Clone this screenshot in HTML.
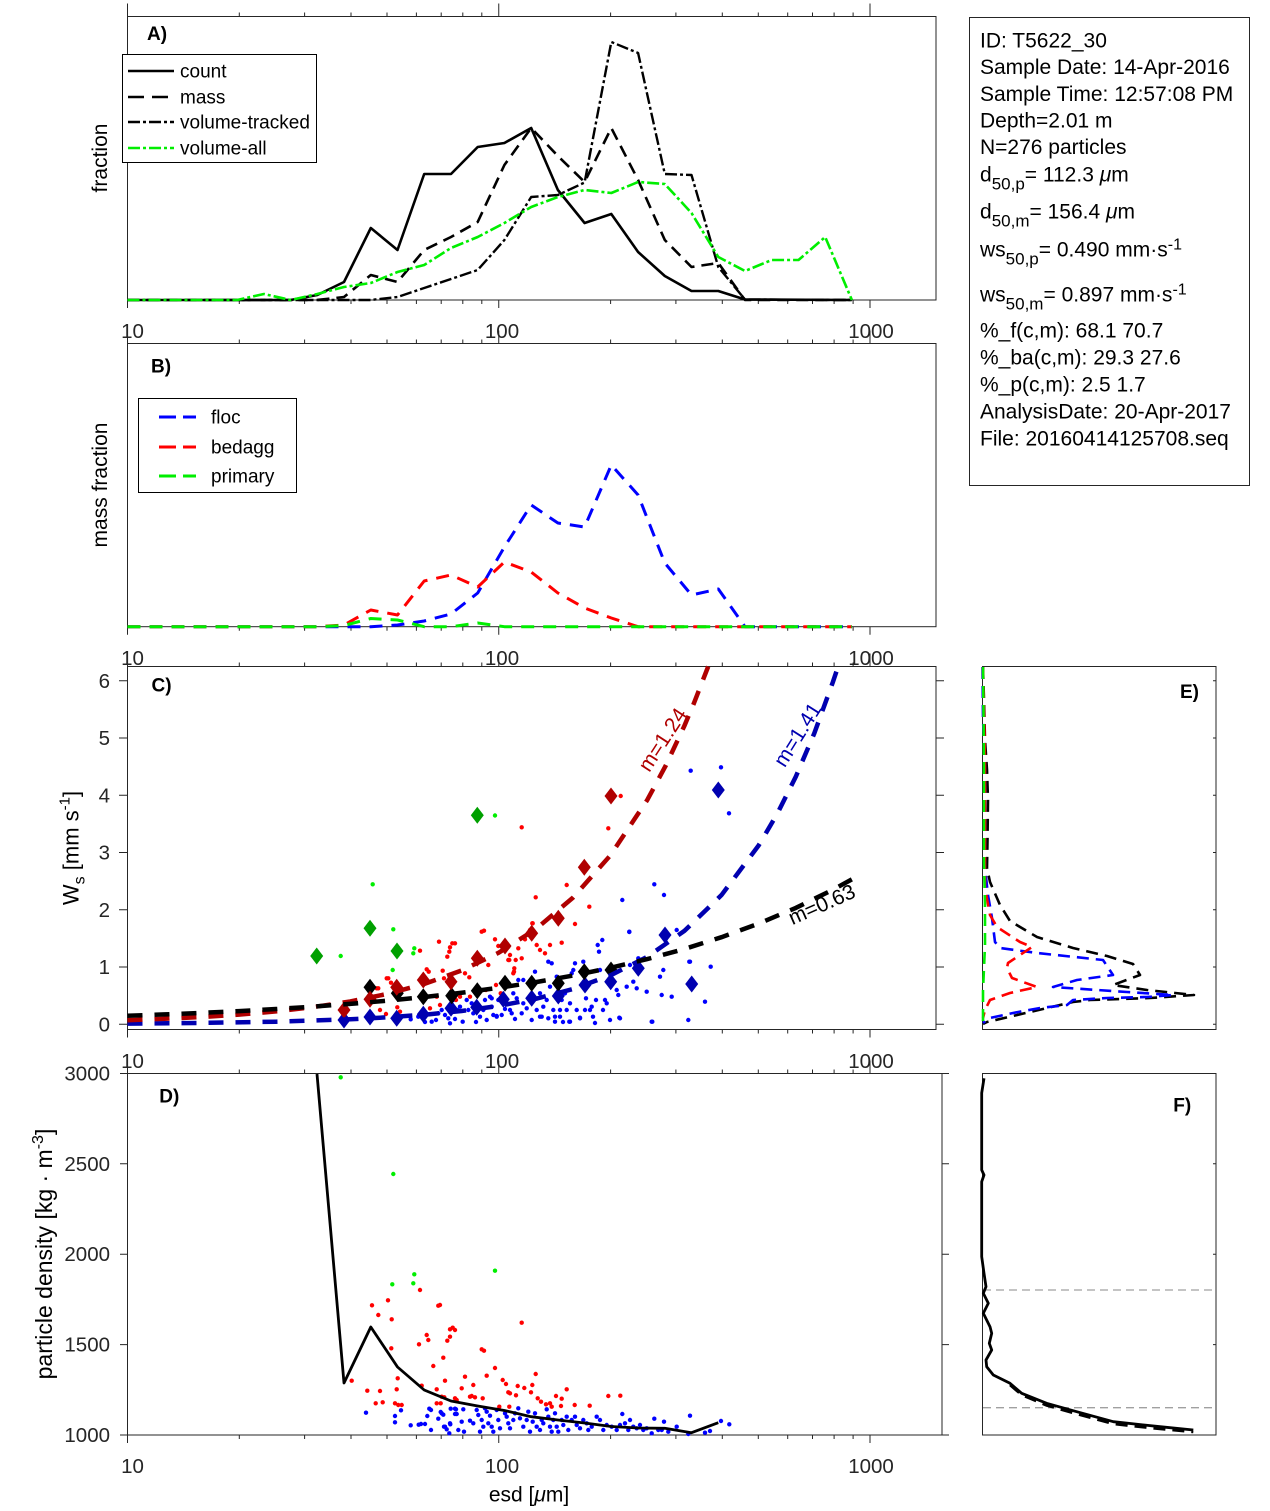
<!DOCTYPE html>
<html>
<head>
<meta charset="utf-8">
<style>
html,body{margin:0;padding:0;background:#fff;}
svg{display:block;font-family:"Liberation Sans",Arial,sans-serif;}
</style>
</head>
<body>
<svg width="1270" height="1511" viewBox="0 0 1270 1511" xmlns="http://www.w3.org/2000/svg">
<defs>
<path id="tkTop" d="M127.5 0v-13M498.75 0v-13M870 0v-13M239.3 0v-4M304.6 0v-4M351 0v-4M387 0v-4M416.4 0v-4M441.2 0v-4M462.8 0v-4M481.8 0v-4M610.6 0v-4M675.9 0v-4M722.3 0v-4M758.3 0v-4M787.7 0v-4M812.5 0v-4M834.1 0v-4M853.1 0v-4"/>
<path id="tkBot" d="M127.5 0v8M498.75 0v8M870 0v8M239.3 0v4M304.6 0v4M351 0v4M387 0v4M416.4 0v4M441.2 0v4M462.8 0v4M481.8 0v4M610.6 0v4M675.9 0v4M722.3 0v4M758.3 0v4M787.7 0v4M812.5 0v4M834.1 0v4M853.1 0v4"/>
<path id="dm" d="M0 -8.5L6.5 0L0 8.5L-6.5 0Z"/>
</defs>
<rect x="0" y="0" width="1270" height="1511" fill="#fff"/>

<!-- ============ PANEL A ============ -->
<g fill="none" stroke="#262626" stroke-width="1">
<rect x="127.5" y="16.5" width="808.5" height="283.5"/>
<use href="#tkTop" y="16.5"/>
<use href="#tkBot" y="300"/>
</g>
<g fill="none" stroke-linejoin="round">
<polyline stroke="#000" stroke-width="2.6" points="127.5,300 290.6,300 317.3,295 344,282 370.8,228 397.5,250 424.2,174 451,174 477.7,147 504.4,143 531.2,128 557.9,190 584.6,223 611.3,214 638.1,252 664.8,276 691.5,291 718.3,291 745,299.5 851.9,300"/>
<polyline stroke="#000" stroke-width="2.6" stroke-dasharray="12 7" points="127.5,300 317.3,300 344,297 370.8,275 397.5,282 424.2,250 451,237 477.7,222 504.4,165 531.2,128 557.9,156 584.6,182 611.3,128 638.1,180 664.8,240 691.5,267 718.3,263 745,300 851.9,300"/>
<polyline stroke="#000" stroke-width="2.4" stroke-dasharray="12 3 3 3" points="127.5,300 370.8,300 397.5,297 424.2,288 451,279 477.7,270 504.4,240 531.2,197 557.9,195 584.6,182.5 611.3,42 638.1,53 664.8,174 691.5,175 718.3,267 745,299.5 851.9,300"/>
<polyline stroke="#00ee00" stroke-width="2.6" stroke-dasharray="12 3 3 3" points="127.5,300 237.1,300 263.9,294 290.6,300 317.3,294 344,287 370.8,283 397.5,272 424.2,265 451,248 477.7,237 504.4,223 531.2,207 557.9,197 584.6,190 611.3,193 638.1,182 664.8,184 691.5,213 718.3,257 745,271 771.7,260 798.5,260 825.2,237 851.9,300"/>
</g>
<text x="147" y="40" font-size="19" font-weight="bold" fill="#000">A)</text>
<rect x="122.5" y="54.5" width="194" height="108" fill="#fff" stroke="#000" stroke-width="1"/>
<g fill="none">
<line x1="128" y1="71" x2="174" y2="71" stroke="#000" stroke-width="2.6"/>
<line x1="128" y1="97" x2="174" y2="97" stroke="#000" stroke-width="2.6" stroke-dasharray="16 8"/>
<line x1="128" y1="122" x2="174" y2="122" stroke="#000" stroke-width="2.4" stroke-dasharray="12 3 3 3"/>
<line x1="128" y1="148" x2="174" y2="148" stroke="#00ee00" stroke-width="2.6" stroke-dasharray="12 3 3 3"/>
</g>
<g font-size="19" fill="#000">
<text x="180" y="77.5">count</text>
<text x="180" y="103.5">mass</text>
<text x="180" y="128.5">volume-tracked</text>
<text x="180" y="154.5">volume-all</text>
</g>
<text transform="translate(107,158) rotate(-90)" text-anchor="middle" font-size="21" fill="#000">fraction</text>
<g font-size="20.5" fill="#262626" text-anchor="middle">
<text x="132.5" y="338">10</text><text x="502" y="338">100</text><text x="871" y="338">1000</text>
</g>

<!-- ============ PANEL B ============ -->
<g fill="none" stroke="#262626" stroke-width="1">
<rect x="127.5" y="343.5" width="808.5" height="283.2"/>
<use href="#tkTop" y="343.5"/>
<use href="#tkBot" y="626.7"/>
</g>
<g fill="none" stroke-width="3" stroke-dasharray="13 9" stroke-linejoin="round">
<polyline stroke="#0000ff" points="127.5,626.7 370.8,626.7 397.5,625 424.2,621 451,614 477.7,593 504.4,547 531.2,505 557.9,523 584.6,527 611.3,465 638.1,495 664.8,563 691.5,595 718.3,589 745,626.7 851.9,626.7"/>
<polyline stroke="#ff0000" points="127.5,626.7 317.3,626.7 344,625 370.8,610 397.5,615 424.2,581 451,575 477.7,587 504.4,562 531.2,572 557.9,593 584.6,608 611.3,618 638.1,626.7 851.9,626.7"/>
<polyline stroke="#00ee00" points="127.5,626.7 317.3,626.7 344,625.5 370.8,618.5 397.5,620 424.2,626.7 451,626.7 477.7,623 504.4,626.7 851.9,626.7"/>
</g>
<text x="151" y="372.5" font-size="19" font-weight="bold" fill="#000">B)</text>
<rect x="138.5" y="398.5" width="158" height="94" fill="#fff" stroke="#000" stroke-width="1"/>
<g fill="none" stroke-width="3" stroke-dasharray="17 7">
<line x1="159" y1="417" x2="196" y2="417" stroke="#0000ff"/>
<line x1="159" y1="447" x2="196" y2="447" stroke="#ff0000"/>
<line x1="159" y1="476" x2="196" y2="476" stroke="#00ee00"/>
</g>
<g font-size="19" fill="#000">
<text x="211" y="423.5">floc</text>
<text x="211" y="453.5">bedagg</text>
<text x="211" y="482.5">primary</text>
</g>
<text transform="translate(107,485) rotate(-90)" text-anchor="middle" font-size="21" fill="#000">mass fraction</text>
<g font-size="20.5" fill="#262626" text-anchor="middle">
<text x="132.5" y="665">10</text><text x="502" y="665">100</text><text x="871" y="665">1000</text>
</g>

<!-- ============ PANEL C ============ -->
<g fill="none" stroke="#262626" stroke-width="1">
<rect x="127.5" y="666.5" width="808.5" height="363"/>
<use href="#tkTop" y="666.5"/>
<use href="#tkBot" y="1029.5"/>
<path d="M119 1024.3h8M119 967h8M119 909.8h8M119 852.5h8M119 795.2h8M119 738h8M119 680.7h8M936 1024.3h8M936 967h8M936 909.8h8M936 852.5h8M936 795.2h8M936 738h8M936 680.7h8"/>
</g>
<g font-size="20.5" fill="#262626" text-anchor="end">
<text x="110" y="1031.5">0</text><text x="110" y="974">1</text><text x="110" y="917">2</text><text x="110" y="859.5">3</text><text x="110" y="802.5">4</text><text x="110" y="745">5</text><text x="110" y="688">6</text>
</g>
<text transform="translate(78.5,848) rotate(-90)" text-anchor="middle" font-size="22" fill="#000">W<tspan font-size="16" dy="6">s</tspan><tspan dy="-6"> [mm s</tspan><tspan font-size="15" dy="-9">-1</tspan><tspan dy="9">]</tspan></text>
<g font-size="20.5" fill="#262626" text-anchor="middle">
<text x="132.5" y="1068">10</text><text x="502" y="1068">100</text><text x="871" y="1068">1000</text>
</g>
<!-- C blue dots -->
<g fill="#0000ff">
<circle cx="410.7" cy="1019.3" r="2.2"/><circle cx="418.3" cy="1016.7" r="2.2"/><circle cx="431.7" cy="1021.7" r="2.2"/><circle cx="438.3" cy="1013.3" r="2.2"/><circle cx="441.7" cy="1010" r="2.2"/><circle cx="445" cy="1015" r="2.2"/><circle cx="448.3" cy="1018.3" r="2.2"/><circle cx="450" cy="1023.3" r="2.2"/><circle cx="453.3" cy="1000" r="2.2"/><circle cx="457.3" cy="1010" r="2.2"/><circle cx="460" cy="1006.7" r="2.2"/><circle cx="462.7" cy="1021.7" r="2.2"/><circle cx="466.7" cy="1000" r="2.2"/><circle cx="468.3" cy="1010" r="2.2"/><circle cx="471.7" cy="1003.3" r="2.2"/><circle cx="473.3" cy="1013.3" r="2.2"/><circle cx="480" cy="1016.7" r="2.2"/><circle cx="483.3" cy="1010" r="2.2"/><circle cx="485" cy="1000" r="2.2"/><circle cx="486.7" cy="1020" r="2.2"/><circle cx="490" cy="996.7" r="2.2"/><circle cx="491.7" cy="1006.7" r="2.2"/><circle cx="493.3" cy="1015" r="2.2"/><circle cx="496.7" cy="1016.7" r="2.2"/><circle cx="498.3" cy="1000" r="2.2"/><circle cx="501.7" cy="1015" r="2.2"/><circle cx="506.7" cy="1003.3" r="2.2"/><circle cx="510" cy="1010" r="2.2"/><circle cx="513.3" cy="993.3" r="2.2"/><circle cx="516.7" cy="998.3" r="2.2"/><circle cx="518.3" cy="980" r="2.2"/><circle cx="523.3" cy="980" r="2.2"/><circle cx="521.7" cy="1013.3" r="2.2"/><circle cx="526.7" cy="1008.3" r="2.2"/><circle cx="530" cy="1000" r="2.2"/><circle cx="535" cy="971.7" r="2.2"/><circle cx="536.7" cy="1010" r="2.2"/><circle cx="540" cy="993.3" r="2.2"/><circle cx="541.7" cy="1016.7" r="2.2"/><circle cx="543.3" cy="1006.7" r="2.2"/><circle cx="546.7" cy="1000" r="2.2"/><circle cx="548.3" cy="961.7" r="2.2"/><circle cx="550" cy="986.7" r="2.2"/><circle cx="551.7" cy="963.3" r="2.2"/><circle cx="553.3" cy="1010" r="2.2"/><circle cx="555" cy="1016.7" r="2.2"/><circle cx="556.7" cy="976.7" r="2.2"/><circle cx="560" cy="1016.7" r="2.2"/><circle cx="561.7" cy="1000" r="2.2"/><circle cx="565" cy="993.3" r="2.2"/><circle cx="566.7" cy="1010" r="2.2"/><circle cx="569.3" cy="1021.7" r="2.2"/><circle cx="570" cy="1003.3" r="2.2"/><circle cx="571.7" cy="973.3" r="2.2"/><circle cx="573.3" cy="970" r="2.2"/><circle cx="575" cy="963.3" r="2.2"/><circle cx="576.7" cy="1010" r="2.2"/><circle cx="580" cy="1018.3" r="2.2"/><circle cx="583.3" cy="961.7" r="2.2"/><circle cx="585" cy="1010" r="2.2"/><circle cx="586" cy="998.3" r="2.2"/><circle cx="590" cy="1010" r="2.2"/><circle cx="591.7" cy="1006.7" r="2.2"/><circle cx="596" cy="1000" r="2.2"/><circle cx="597.7" cy="945" r="2.2"/><circle cx="599" cy="951.7" r="2.2"/><circle cx="600" cy="970" r="2.2"/><circle cx="602.3" cy="940" r="2.2"/><circle cx="605" cy="1000" r="2.2"/><circle cx="606.7" cy="1003.3" r="2.2"/><circle cx="616.7" cy="990" r="2.2"/><circle cx="618.3" cy="995" r="2.2"/><circle cx="620" cy="1018.3" r="2.2"/><circle cx="626.7" cy="986.7" r="2.2"/><circle cx="629.3" cy="932" r="2.2"/><circle cx="630" cy="965" r="2.2"/><circle cx="633.3" cy="981.7" r="2.2"/><circle cx="636.7" cy="988.3" r="2.2"/><circle cx="638.3" cy="958.3" r="2.2"/><circle cx="646.7" cy="991.7" r="2.2"/><circle cx="651.7" cy="1021.7" r="2.2"/><circle cx="660" cy="976.7" r="2.2"/><circle cx="661.7" cy="995" r="2.2"/><circle cx="663.3" cy="970" r="2.2"/><circle cx="671.7" cy="996.7" r="2.2"/><circle cx="676.7" cy="930" r="2.2"/><circle cx="688.3" cy="1020" r="2.2"/><circle cx="690" cy="961.7" r="2.2"/><circle cx="705" cy="1001.7" r="2.2"/><circle cx="710.7" cy="966.7" r="2.2"/>
<circle cx="690.7" cy="770.7" r="2.2"/><circle cx="721" cy="767.3" r="2.2"/><circle cx="729" cy="813.3" r="2.2"/><circle cx="654.3" cy="884.3" r="2.2"/><circle cx="664" cy="895" r="2.2"/><circle cx="622.3" cy="900" r="2.2"/><circle cx="629.3" cy="931.7" r="2.2"/><circle cx="689.3" cy="961.7" r="2.2"/><circle cx="652.3" cy="1021.7" r="2.2"/><circle cx="619.3" cy="1017.7" r="2.2"/>
<circle cx="491.7" cy="998.3" r="2.2"/><circle cx="496.7" cy="1016" r="2.2"/><circle cx="505" cy="1009" r="2.2"/><circle cx="511.7" cy="1013.3" r="2.2"/><circle cx="523.3" cy="1003.3" r="2.2"/><circle cx="531.7" cy="1020" r="2.2"/><circle cx="540" cy="1016.7" r="2.2"/><circle cx="548.3" cy="1018.3" r="2.2"/><circle cx="555" cy="1021.7" r="2.2"/><circle cx="560" cy="1010" r="2.2"/><circle cx="570" cy="1021.7" r="2.2"/><circle cx="580" cy="1017.7" r="2.2"/><circle cx="593" cy="1016.7" r="2.2"/><circle cx="603" cy="1010" r="2.2"/><circle cx="476" cy="1022" r="2.2"/><circle cx="515" cy="1019" r="2.2"/><circle cx="563" cy="1022" r="2.2"/><circle cx="595" cy="1023" r="2.2"/><circle cx="610" cy="1020" r="2.2"/><circle cx="425" cy="1022" r="2.2"/><circle cx="436" cy="1020" r="2.2"/><circle cx="455" cy="1019" r="2.2"/>
</g>
<!-- C red dots -->
<g fill="#ff0000">
<circle cx="376.7" cy="988.3" r="2.2"/><circle cx="380" cy="1010" r="2.2"/><circle cx="386" cy="1014" r="2.2"/><circle cx="388.3" cy="978.3" r="2.2"/><circle cx="391" cy="982.7" r="2.2"/><circle cx="397.3" cy="1007.3" r="2.2"/><circle cx="400" cy="1011.7" r="2.2"/><circle cx="420" cy="950.7" r="2.2"/><circle cx="426.7" cy="969.3" r="2.2"/><circle cx="428.7" cy="971.7" r="2.2"/><circle cx="430" cy="1008.3" r="2.2"/><circle cx="436.7" cy="996.7" r="2.2"/><circle cx="439" cy="941.7" r="2.2"/><circle cx="440" cy="1005" r="2.2"/><circle cx="442.7" cy="970.7" r="2.2"/><circle cx="444" cy="978.3" r="2.2"/><circle cx="447.3" cy="956.7" r="2.2"/><circle cx="449.3" cy="951.7" r="2.2"/><circle cx="450" cy="947.3" r="2.2"/><circle cx="452.3" cy="943.3" r="2.2"/><circle cx="455" cy="943.3" r="2.2"/><circle cx="456" cy="1000" r="2.2"/><circle cx="460" cy="996.7" r="2.2"/><circle cx="465" cy="973.3" r="2.2"/><circle cx="469.3" cy="977.3" r="2.2"/><circle cx="470" cy="996.7" r="2.2"/><circle cx="481.7" cy="931.7" r="2.2"/><circle cx="484" cy="930.7" r="2.2"/><circle cx="486" cy="990" r="2.2"/><circle cx="488.3" cy="965" r="2.2"/><circle cx="495" cy="939.3" r="2.2"/><circle cx="496" cy="985" r="2.2"/><circle cx="500.7" cy="993.3" r="2.2"/><circle cx="508.3" cy="960" r="2.2"/><circle cx="510" cy="955" r="2.2"/><circle cx="513.3" cy="973.3" r="2.2"/><circle cx="514.3" cy="968.3" r="2.2"/><circle cx="515.7" cy="960" r="2.2"/><circle cx="518.3" cy="948.3" r="2.2"/><circle cx="521.7" cy="958.3" r="2.2"/><circle cx="525" cy="939.3" r="2.2"/><circle cx="530" cy="930" r="2.2"/><circle cx="532.3" cy="923.3" r="2.2"/><circle cx="536.7" cy="945" r="2.2"/><circle cx="540" cy="950" r="2.2"/><circle cx="545" cy="953.3" r="2.2"/><circle cx="550" cy="945" r="2.2"/><circle cx="561.7" cy="942.7" r="2.2"/><circle cx="575" cy="924" r="2.2"/><circle cx="589.3" cy="906.7" r="2.2"/><circle cx="521.7" cy="827.3" r="2.2"/><circle cx="608.3" cy="828.3" r="2.2"/><circle cx="620.7" cy="796" r="2.2"/><circle cx="566.7" cy="885" r="2.2"/><circle cx="535.7" cy="897.3" r="2.2"/><circle cx="532.7" cy="923.3" r="2.2"/><circle cx="386.7" cy="978.3" r="2.2"/><circle cx="378.3" cy="988.3" r="2.2"/><circle cx="509.3" cy="960" r="2.2"/><circle cx="514" cy="971.7" r="2.2"/><circle cx="498.3" cy="946" r="2.2"/>
</g>
<!-- C green dots -->
<g fill="#00ee00">
<circle cx="340.7" cy="956" r="2.2"/><circle cx="372.7" cy="884.3" r="2.2"/><circle cx="393.3" cy="929.3" r="2.2"/><circle cx="392.7" cy="970" r="2.2"/><circle cx="414.3" cy="948.3" r="2.2"/><circle cx="413.3" cy="953.3" r="2.2"/><circle cx="495" cy="815.5" r="2.2"/>
</g>
<!-- C diamonds -->
<g fill="#00a000">
<use href="#dm" x="316.7" y="956"/><use href="#dm" x="370" y="928.3"/><use href="#dm" x="397" y="951"/><use href="#dm" x="477.3" y="815.3"/>
</g>
<g fill="#0000b0">
<use href="#dm" x="344" y="1020"/><use href="#dm" x="370" y="1017"/><use href="#dm" x="396.7" y="1018.3"/><use href="#dm" x="423.3" y="1014.3"/><use href="#dm" x="451" y="1008.3"/><use href="#dm" x="476.7" y="1007.3"/><use href="#dm" x="503.3" y="999.3"/><use href="#dm" x="531.7" y="998.3"/><use href="#dm" x="558.3" y="996"/><use href="#dm" x="585" y="985"/><use href="#dm" x="638.3" y="968.3"/><use href="#dm" x="665" y="935"/><use href="#dm" x="691.7" y="984"/><use href="#dm" x="718.3" y="790"/>
</g>
<g fill="#000">
<use href="#dm" x="370" y="987.3"/><use href="#dm" x="397.3" y="993.3"/><use href="#dm" x="423.3" y="996.7"/><use href="#dm" x="451.7" y="995.7"/><use href="#dm" x="477.3" y="990.7"/><use href="#dm" x="505" y="983.3"/><use href="#dm" x="531.7" y="983.3"/><use href="#dm" x="558.3" y="983.3"/><use href="#dm" x="584.3" y="971.7"/><use href="#dm" x="611" y="970"/>
</g>
<g fill="#0000b0"><use href="#dm" x="610.7" y="981.7"/></g>
<g fill="#b00000">
<use href="#dm" x="344" y="1010"/><use href="#dm" x="370" y="999.3"/><use href="#dm" x="396.7" y="987.3"/><use href="#dm" x="423.3" y="980"/><use href="#dm" x="451" y="981.7"/><use href="#dm" x="477.3" y="958.3"/><use href="#dm" x="505" y="946"/><use href="#dm" x="531.7" y="933.3"/><use href="#dm" x="558.3" y="918.3"/><use href="#dm" x="584.3" y="867.3"/><use href="#dm" x="611" y="796"/>
</g>
<!-- C fit lines -->
<g fill="none" stroke-width="4.5" stroke-dasharray="15 12">
<polyline stroke="#0000b0" points="127.5,1023.6 201.75,1022.9 276,1021.7 350.25,1019.3 387.4,1017.3 424.5,1014.7 461.6,1011 498.75,1005.9 535.9,998.8 573,989 610.1,975.5 647.25,956.8 684.4,930.9 721.5,895.05 758.6,845.5 777.2,813.9 795.75,776.8 814.3,733.3 832.9,682 838.1,666.5"/>
<polyline stroke="#b00000" points="127.5,1020.2 164.6,1018.8 201.75,1017 238.9,1014.6 276,1011.4 313.1,1007.1 350.25,1001.45 387.4,993.9 424.5,983.9 461.6,970.5 498.75,952.7 535.9,929.05 573,897.6 610.1,855.7 647.25,800 665.8,765.5 684.4,725.8 693.7,703.8 708.2,666.5"/>
<polyline stroke="#000" points="127.5,1015.75 164.6,1014.4 201.75,1012.87 238.9,1011.09 276,1009.03 313.1,1006.64 350.25,1003.88 387.4,1000.7 424.5,997 461.6,992.75 498.75,987.8 535.9,982.1 573,975.55 610.1,967.9 647.25,959.1 684.4,949 721.5,937.2 758.6,923.6 795.75,907.9 832.9,889.7 852,879.3"/>
</g>
<text transform="translate(663,740) rotate(-57)" text-anchor="middle" dominant-baseline="central" font-size="21" fill="#b00000">m=1.24</text>
<text transform="translate(798,735) rotate(-58)" text-anchor="middle" dominant-baseline="central" font-size="21" fill="#0000b0">m=1.41</text>
<text transform="translate(822,905) rotate(-24)" text-anchor="middle" dominant-baseline="central" font-size="21" fill="#000">m=0.63</text>
<text x="151.5" y="691.5" font-size="19" font-weight="bold" fill="#000">C)</text>

<!-- ============ PANEL D ============ -->
<g fill="none" stroke="#262626" stroke-width="1">
<rect x="127.5" y="1073.5" width="814.5" height="361.5"/>
<use href="#tkTop" y="1073.5"/>
<use href="#tkBot" y="1435"/>
<path d="M120 1435h7.5M120 1344.6h7.5M120 1254.2h7.5M120 1163.8h7.5M120 1073.5h7.5M942 1435h7M942 1344.6h7M942 1254.2h7M942 1163.8h7M942 1073.5h7"/>
</g>
<g font-size="20.5" fill="#262626" text-anchor="end">
<text x="110" y="1442">1000</text><text x="110" y="1351.6">1500</text><text x="110" y="1261.2">2000</text><text x="110" y="1170.8">2500</text><text x="110" y="1080.5">3000</text>
</g>
<g font-size="20.5" fill="#262626" text-anchor="middle">
<text x="132.5" y="1473">10</text><text x="502" y="1473">100</text><text x="871" y="1473">1000</text>
</g>
<text x="529" y="1501.5" text-anchor="middle" font-size="21" fill="#000">esd [<tspan font-style="italic">μ</tspan>m]</text>
<text transform="translate(52,1254) rotate(-90)" text-anchor="middle" font-size="23" fill="#000">particle density [kg · m<tspan font-size="16" dy="-9">-3</tspan><tspan dy="9">]</tspan></text>
<text x="159.3" y="1102.5" font-size="19" font-weight="bold" fill="#000">D)</text>
<!-- D blue dots -->
<g fill="#0000ff">
<circle cx="366" cy="1412.7" r="2.2"/><circle cx="395" cy="1416" r="2.2"/><circle cx="395" cy="1422.3" r="2.2"/><circle cx="401" cy="1410.3" r="2.2"/><circle cx="410.7" cy="1425.3" r="2.2"/><circle cx="418.7" cy="1424.7" r="2.2"/><circle cx="421" cy="1424" r="2.2"/><circle cx="425" cy="1424" r="2.2"/><circle cx="427.3" cy="1416" r="2.2"/><circle cx="429.3" cy="1408.7" r="2.2"/><circle cx="431" cy="1410" r="2.2"/><circle cx="431" cy="1430" r="2.2"/><circle cx="438.3" cy="1418.7" r="2.2"/><circle cx="440.7" cy="1412" r="2.2"/><circle cx="443.3" cy="1414.7" r="2.2"/><circle cx="444" cy="1426.7" r="2.2"/><circle cx="446.7" cy="1429.3" r="2.2"/><circle cx="449.3" cy="1433.3" r="2.2"/><circle cx="450.7" cy="1408.7" r="2.2"/><circle cx="455" cy="1408.7" r="2.2"/><circle cx="450.3" cy="1424.3" r="2.2"/><circle cx="455" cy="1414" r="2.2"/><circle cx="458.3" cy="1430" r="2.2"/>
<circle cx="441.7" cy="1413.3" r="2.2"/><circle cx="445" cy="1426.7" r="2.2"/><circle cx="450" cy="1423.3" r="2.2"/><circle cx="456" cy="1409.3" r="2.2"/><circle cx="456.7" cy="1414" r="2.2"/><circle cx="463.3" cy="1409.3" r="2.2"/><circle cx="461.7" cy="1421.7" r="2.2"/><circle cx="464" cy="1431.7" r="2.2"/><circle cx="470" cy="1420.7" r="2.2"/><circle cx="473.3" cy="1423.3" r="2.2"/><circle cx="476.7" cy="1410" r="2.2"/><circle cx="478.3" cy="1415" r="2.2"/><circle cx="480" cy="1431.7" r="2.2"/><circle cx="481.7" cy="1420" r="2.2"/><circle cx="483.3" cy="1426.7" r="2.2"/><circle cx="485" cy="1408.3" r="2.2"/><circle cx="486.7" cy="1411.7" r="2.2"/><circle cx="488.3" cy="1423.3" r="2.2"/><circle cx="490" cy="1415.7" r="2.2"/><circle cx="491.7" cy="1426.7" r="2.2"/><circle cx="493.3" cy="1431.7" r="2.2"/><circle cx="496.7" cy="1410" r="2.2"/><circle cx="498.3" cy="1420" r="2.2"/><circle cx="500" cy="1428.3" r="2.2"/><circle cx="505" cy="1413.3" r="2.2"/><circle cx="506.7" cy="1416.7" r="2.2"/><circle cx="508.3" cy="1423.3" r="2.2"/><circle cx="510" cy="1428.3" r="2.2"/><circle cx="513.3" cy="1420" r="2.2"/><circle cx="515" cy="1413.3" r="2.2"/><circle cx="518.3" cy="1408.3" r="2.2"/><circle cx="520" cy="1418.3" r="2.2"/><circle cx="523.3" cy="1426.7" r="2.2"/><circle cx="526.7" cy="1420" r="2.2"/><circle cx="528.3" cy="1411.7" r="2.2"/><circle cx="530" cy="1431.7" r="2.2"/><circle cx="532.7" cy="1421.7" r="2.2"/><circle cx="535" cy="1413.3" r="2.2"/><circle cx="536.7" cy="1426.7" r="2.2"/><circle cx="540" cy="1430" r="2.2"/><circle cx="541.7" cy="1420" r="2.2"/><circle cx="543.3" cy="1423.3" r="2.2"/><circle cx="546.7" cy="1409.3" r="2.2"/><circle cx="548.3" cy="1416.7" r="2.2"/><circle cx="550" cy="1426.7" r="2.2"/><circle cx="551.7" cy="1431.7" r="2.2"/><circle cx="553.3" cy="1420" r="2.2"/><circle cx="555" cy="1413.3" r="2.2"/><circle cx="556.7" cy="1426.7" r="2.2"/><circle cx="558.3" cy="1431.7" r="2.2"/><circle cx="561.7" cy="1420" r="2.2"/><circle cx="563.3" cy="1425" r="2.2"/><circle cx="566.7" cy="1416.7" r="2.2"/><circle cx="568.3" cy="1430" r="2.2"/><circle cx="571.7" cy="1420" r="2.2"/><circle cx="575" cy="1416.7" r="2.2"/><circle cx="576.7" cy="1425" r="2.2"/><circle cx="580" cy="1428.3" r="2.2"/><circle cx="583.3" cy="1420" r="2.2"/><circle cx="586.7" cy="1423.3" r="2.2"/><circle cx="588.3" cy="1430" r="2.2"/><circle cx="591.7" cy="1426.7" r="2.2"/><circle cx="596.7" cy="1416.7" r="2.2"/><circle cx="600" cy="1420" r="2.2"/><circle cx="603.3" cy="1430" r="2.2"/><circle cx="606.7" cy="1425" r="2.2"/><circle cx="611.7" cy="1426.7" r="2.2"/><circle cx="616.7" cy="1430" r="2.2"/><circle cx="620" cy="1425" r="2.2"/><circle cx="622.3" cy="1414" r="2.2"/><circle cx="625" cy="1423.3" r="2.2"/><circle cx="628.3" cy="1430" r="2.2"/><circle cx="630" cy="1420" r="2.2"/><circle cx="633.3" cy="1426.7" r="2.2"/><circle cx="636.7" cy="1428.3" r="2.2"/><circle cx="640" cy="1425" r="2.2"/><circle cx="643.3" cy="1430" r="2.2"/><circle cx="646.7" cy="1428.3" r="2.2"/><circle cx="651.7" cy="1433.3" r="2.2"/><circle cx="654.3" cy="1418.7" r="2.2"/><circle cx="658.3" cy="1430" r="2.2"/><circle cx="661.7" cy="1430" r="2.2"/><circle cx="664" cy="1421.7" r="2.2"/><circle cx="668.3" cy="1431.7" r="2.2"/><circle cx="676.7" cy="1426.7" r="2.2"/><circle cx="688.3" cy="1434" r="2.2"/><circle cx="690" cy="1415.7" r="2.2"/><circle cx="705" cy="1432.7" r="2.2"/><circle cx="710" cy="1431" r="2.2"/><circle cx="721" cy="1421" r="2.2"/><circle cx="729.3" cy="1424.3" r="2.2"/>
</g>
<!-- D red dots -->
<g fill="#ff0000">
<circle cx="351.7" cy="1380.7" r="2.2"/><circle cx="367.3" cy="1390.7" r="2.2"/><circle cx="372" cy="1305.3" r="2.2"/><circle cx="378.3" cy="1315" r="2.2"/><circle cx="375.7" cy="1403.3" r="2.2"/><circle cx="380" cy="1391" r="2.2"/><circle cx="382.7" cy="1402.3" r="2.2"/><circle cx="388" cy="1300.3" r="2.2"/><circle cx="391.7" cy="1319.3" r="2.2"/><circle cx="391.3" cy="1348.3" r="2.2"/><circle cx="395" cy="1403.3" r="2.2"/><circle cx="396.7" cy="1389.3" r="2.2"/><circle cx="397.7" cy="1378.3" r="2.2"/><circle cx="401.7" cy="1405" r="2.2"/><circle cx="398.3" cy="1405" r="2.2"/><circle cx="419" cy="1344.3" r="2.2"/><circle cx="420" cy="1290" r="2.2"/><circle cx="421.7" cy="1385.7" r="2.2"/><circle cx="426.7" cy="1335" r="2.2"/><circle cx="428.3" cy="1340" r="2.2"/><circle cx="433.3" cy="1366" r="2.2"/><circle cx="436.7" cy="1389.3" r="2.2"/><circle cx="438.3" cy="1305.7" r="2.2"/><circle cx="436.7" cy="1403.3" r="2.2"/><circle cx="440.7" cy="1403.3" r="2.2"/><circle cx="443.3" cy="1357.7" r="2.2"/><circle cx="445" cy="1380.7" r="2.2"/><circle cx="444.3" cy="1397.3" r="2.2"/><circle cx="447.3" cy="1340.7" r="2.2"/><circle cx="450" cy="1336.7" r="2.2"/><circle cx="450" cy="1329.3" r="2.2"/><circle cx="452.7" cy="1327.7" r="2.2"/><circle cx="455" cy="1330" r="2.2"/><circle cx="455" cy="1398.3" r="2.2"/><circle cx="456.7" cy="1400" r="2.2"/>
<circle cx="440" cy="1305" r="2.2"/><circle cx="441.7" cy="1396.7" r="2.2"/><circle cx="461.7" cy="1388.3" r="2.2"/><circle cx="465" cy="1376.7" r="2.2"/><circle cx="470" cy="1396.7" r="2.2"/><circle cx="471.7" cy="1396" r="2.2"/><circle cx="473.3" cy="1385" r="2.2"/><circle cx="475" cy="1397.3" r="2.2"/><circle cx="481.7" cy="1349.3" r="2.2"/><circle cx="484" cy="1350.7" r="2.2"/><circle cx="482.7" cy="1398.3" r="2.2"/><circle cx="486.7" cy="1375.7" r="2.2"/><circle cx="495" cy="1368" r="2.2"/><circle cx="499.3" cy="1406.7" r="2.2"/><circle cx="502.7" cy="1380" r="2.2"/><circle cx="506" cy="1384" r="2.2"/><circle cx="508.3" cy="1392.3" r="2.2"/><circle cx="510" cy="1393.3" r="2.2"/><circle cx="509.3" cy="1406.7" r="2.2"/><circle cx="516" cy="1395.3" r="2.2"/><circle cx="517.7" cy="1386" r="2.2"/><circle cx="521.7" cy="1322.7" r="2.2"/><circle cx="524.3" cy="1388" r="2.2"/><circle cx="531" cy="1392.3" r="2.2"/><circle cx="532.3" cy="1385" r="2.2"/><circle cx="535.7" cy="1374" r="2.2"/><circle cx="537.7" cy="1398.3" r="2.2"/><circle cx="541" cy="1401.7" r="2.2"/><circle cx="546" cy="1404.3" r="2.2"/><circle cx="550" cy="1403.3" r="2.2"/><circle cx="551.7" cy="1406.7" r="2.2"/><circle cx="556" cy="1396" r="2.2"/><circle cx="561" cy="1406" r="2.2"/><circle cx="561.7" cy="1398.7" r="2.2"/><circle cx="566.7" cy="1389.3" r="2.2"/><circle cx="574.7" cy="1405" r="2.2"/><circle cx="589.7" cy="1405.7" r="2.2"/><circle cx="608.3" cy="1396" r="2.2"/><circle cx="620.3" cy="1395.7" r="2.2"/>
</g>
<g fill="#00ee00">
<circle cx="340.7" cy="1077.3" r="2.2"/><circle cx="393.3" cy="1174" r="2.2"/><circle cx="392.3" cy="1284.3" r="2.2"/><circle cx="414.3" cy="1274.3" r="2.2"/><circle cx="413.3" cy="1283.3" r="2.2"/><circle cx="495" cy="1270.7" r="2.2"/>
</g>
<polyline fill="none" stroke="#000" stroke-width="2.8" stroke-linejoin="round" points="317,1074 344,1383 370.8,1327 397.5,1367 424.2,1390 451,1401 477.7,1406 504.4,1410.5 531.2,1416.7 557.9,1420 584.6,1423 611.3,1426.5 638.1,1428 664.8,1428.3 691.5,1432.7 718.3,1422.7"/>

<!-- ============ PANEL E ============ -->
<g fill="none" stroke="#262626" stroke-width="1">
<rect x="982.5" y="666.5" width="233.5" height="363"/>
<path d="M1216 1024.3h-3M1216 967h-3M1216 909.8h-3M1216 852.5h-3M1216 795.2h-3M1216 738h-3M1216 680.7h-3"/>
</g>
<g fill="none" stroke-width="2.6" stroke-dasharray="12 7" stroke-linejoin="round">
<polyline stroke="#000" points="983,667 984,700 985,740 987,770 988,800 987.5,840 987,868 990,882 1000,905 1010,921 1037,937 1073,948 1107,956 1133,964 1140,975 1113,985 1147,990 1194,995 1150,998 1090,1000 1073,1002 1030,1012 987,1022 983,1024"/>
<polyline stroke="#0000ff" points="982.5,667 983,720 985,760 985,868 988,895 992,918 995,942 1000,948 1037,953 1103,960 1113,975 1077,980 1053,987 1127,992 1173,995 1147,997 1107,998 1073,1000 1067,1005 1040,1008 1013,1013 990,1018 983,1023"/>
<polyline stroke="#ff0000" points="983,667 985,760 985,860 985,888 990,915 997,927 1020,942 1032,947 1008,963 1007,968 1012,978 1037,987 1010,993 990,1000 985,1010 983,1018"/>
<polyline stroke="#00ee00" points="983,667 984,760 984,860 985,905 985,945 984,968 983,990 983,1024"/>
</g>
<text x="1180" y="698" font-size="19" font-weight="bold" fill="#000">E)</text>

<!-- ============ PANEL F ============ -->
<g fill="none" stroke="#262626" stroke-width="1">
<rect x="982.5" y="1073.5" width="233.5" height="361.5"/>
<path d="M1216 1344.6h-3M1216 1254.2h-3M1216 1163.8h-3"/>
</g>
<g stroke="#a0a0a0" stroke-width="1.3" stroke-dasharray="8 5">
<line x1="983" y1="1290" x2="1216" y2="1290"/>
<line x1="983" y1="1407.7" x2="1216" y2="1407.7"/>
</g>
<polyline fill="none" stroke="#000" stroke-width="2.6" stroke-dasharray="12 7" points="1010,1385 1021.7,1395 1046.7,1405.5 1076.7,1414 1113.3,1424 1160,1429 1193.3,1432"/>
<polyline fill="none" stroke="#000" stroke-width="2.8" stroke-linejoin="round" points="984,1078.3 981.7,1093 981.7,1170 984,1175 981.7,1181.7 981.7,1256.7 984,1273.3 986,1286.7 983.3,1293.3 988.3,1303.3 983.3,1313.3 990,1326.7 991.7,1333.3 989.3,1343.3 991.7,1350 986,1360 986.7,1366.7 993.3,1375 1010,1383.3 1021.7,1393.3 1046.7,1403.3 1076.7,1411.7 1113.3,1421.7 1160,1426.7 1193.3,1430"/>
<text x="1173.3" y="1111.5" font-size="19" font-weight="bold" fill="#000">F)</text>

<!-- ============ INFO BOX ============ -->
<rect x="969.5" y="17.5" width="280" height="468" fill="#fff" stroke="#262626" stroke-width="1"/>
<g font-size="21" fill="#000">
<text x="980" y="47.5">ID: T5622_30</text>
<text x="980" y="74">Sample Date: 14-Apr-2016</text>
<text x="980" y="101">Sample Time: 12:57:08 PM</text>
<text x="980" y="127.5">Depth=2.01 m</text>
<text x="980" y="154">N=276 particles</text>
<text x="980" y="181.5">d<tspan font-size="17" dy="8">50,p</tspan><tspan dy="-8">= 112.3 </tspan><tspan font-style="italic">μ</tspan>m</text>
<text x="980" y="218.3">d<tspan font-size="17" dy="8">50,m</tspan><tspan dy="-8">= 156.4 </tspan><tspan font-style="italic">μ</tspan>m</text>
<text x="980" y="256.7">ws<tspan font-size="17" dy="8">50,p</tspan><tspan dy="-8">= 0.490 mm·s</tspan><tspan font-size="16" dy="-7">-1</tspan></text>
<text x="980" y="301.7">ws<tspan font-size="17" dy="8">50,m</tspan><tspan dy="-8">= 0.897 mm·s</tspan><tspan font-size="16" dy="-7">-1</tspan></text>
<text x="980" y="337.5">%_f(c,m): 68.1 70.7</text>
<text x="980" y="364.5">%_ba(c,m): 29.3 27.6</text>
<text x="980" y="391.5">%_p(c,m): 2.5 1.7</text>
<text x="980" y="418.5">AnalysisDate: 20-Apr-2017</text>
<text x="980" y="445.5">File: 20160414125708.seq</text>
</g>
</svg>
</body>
</html>
